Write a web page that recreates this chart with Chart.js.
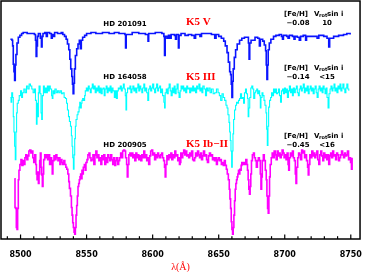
<!DOCTYPE html>
<html><head><meta charset="utf-8">
<script src="https://cdn.jsdelivr.net/npm/chart.js@4.4.0/dist/chart.umd.min.js"></script>
<style>html,body{margin:0;padding:0;background:#fff;}#wrap{width:365px;height:272px;position:relative;}</style>
</head><body><div id="wrap"><canvas id="c"></canvas></div>
<script>
// x tick labels (Angstrom)
const xTicks = [8500, 8550, 8600, 8650, 8700, 8750];
const minorTicks = [8490,8500,8510,8520,8530,8540,8550,8560,8570,8580,8590,8600,8610,8620,8630,8640,8650,8660,8670,8680,8690,8700,8710,8720,8730,8740,8750];

// star labels
const starNames = ["HD 201091", "HD 164058", "HD 200905"];
const spTypes = ["K5 V", "K5 III", "K5 Ib\u2212II"];
const fehValues = ["\u22120.08", "\u22120.14", "\u22120.45"];
const vsiniValues = ["10", "<15", "<16"];

// spectra: [wavelength (A), relative flux incl. vertical offset]
const blueSpec = [
[8492.3,209],[8493.5,208],[8494.0,202],[8494.5,183],[8495.0,175],[8495.5,166],[8496.0,182],[8496.5,193],[8497.3,205],[8498.3,211],
[8499.5,213],[8500.8,215],[8502.0,216],[8505.0,215],[8508.0,215],[8510.5,214],[8511.3,208],[8511.8,191],[8512.3,202],[8512.8,212],
[8513.5,215],[8514.3,215],[8515.0,210],[8515.8,201],[8516.3,212],[8517.0,215],[8518.3,216],[8519.5,212],[8520.3,216],[8522.0,215],
[8523.3,210],[8524.0,214],[8525.0,212],[8525.8,216],[8528.0,215],[8530.8,216],[8532.0,214],[8533.3,212],[8534.5,209],[8535.5,204],
[8536.5,198],[8537.3,188],[8538.0,178],[8538.8,170],[8539.3,162],[8539.8,152],[8540.3,163],[8540.8,178],[8541.5,192],[8542.5,199],
[8543.5,204],[8544.5,208],[8545.3,199],[8546.0,208],[8547.0,211],[8548.5,213],[8550.0,215],[8553.3,216],[8557.0,215],[8562.0,216],
[8567.0,215],[8571.0,216],[8574.5,215],[8579.0,214],[8579.5,200],[8580.0,214],[8584.5,216],[8589.5,215],[8594.5,214],[8596.5,207],
[8597.0,215],[8602.0,216],[8607.0,215],[8608.5,212],[8609.0,192],[8609.5,212],[8610.8,210],[8612.0,213],[8612.8,210],[8614.0,214],
[8616.5,213],[8617.3,209],[8618.0,214],[8619.5,200],[8620.0,213],[8621.5,215],
[8622.0,215],[8624.5,213],[8627.0,214],[8629.5,213],[8631.5,210],[8632.5,214],[8635.8,212],[8637.0,215],[8640.8,215],[8644.5,214],
[8647.0,210],[8648.0,214],[8650.0,212],[8652.0,210],[8653.8,207],[8655.0,202],[8656.3,195],[8657.3,185],[8658.3,175],[8659.0,172],
[8659.5,162],[8660.0,148],[8660.5,165],[8661.0,178],[8661.8,190],[8662.8,198],[8664.0,204],[8665.8,208],[8667.5,210],[8669.5,211],
[8671.5,211],[8672.5,205],[8673.0,188],[8673.5,205],[8674.5,208],[8676.0,208],[8677.5,211],[8679.5,210],[8680.8,202],[8681.5,209],
[8683.3,207],[8684.5,203],[8685.5,197],[8686.0,182],[8686.5,167],[8687.0,182],[8687.5,198],[8688.3,205],[8689.5,209],[8691.5,212],
[8693.3,213],[8695.8,214],[8697.5,212],[8698.3,209],[8699.0,213],[8701.5,212],[8702.5,210],[8703.5,213],[8705.8,212],[8707.0,209],
[8707.8,212],[8709.5,211],[8711.0,208],[8712.0,212],[8714.0,213],[8715.8,208],[8716.5,212],[8719.5,212],[8722.0,212],[8724.5,210],
[8725.8,213],[8729.5,212],[8732.0,210],[8733.3,201],[8734.0,210],[8737.0,212],[8740.8,213],[8744.5,214],[8747.0,215],[8749.5,214]
];

const cyanSpec = [
[8492.3,148],[8492.8,143],[8493.3,153],[8494.0,148],[8494.5,128],[8495.0,112],[8495.5,97],[8496.0,83],[8496.5,112],[8497.0,132],
[8497.5,142],[8498.3,145],[8499.0,150],[8500.0,155],[8500.8,148],[8501.5,153],[8502.5,157],[8503.5,153],[8504.5,160],[8505.5,157],
[8506.5,162],[8507.5,160],[8508.5,157],[8509.5,153],[8510.5,157],[8511.3,145],[8512.0,120],[8512.5,142],[8513.0,128],[8513.5,153],
[8514.0,160],[8514.8,152],[8515.5,132],[8516.0,125],[8516.5,150],[8517.3,160],[8518.0,153],[8518.8,158],[8519.5,153],[8520.3,160],
[8521.0,155],[8521.8,160],[8522.5,157],[8523.5,150],[8524.0,147],[8524.5,155],[8525.3,152],[8526.0,157],[8527.0,153],[8528.0,155],
[8529.0,153],[8530.0,155],[8531.0,152],[8532.0,153],[8533.0,148],[8534.0,147],[8534.8,142],[8535.5,135],[8536.3,128],[8537.0,123],
[8537.8,118],[8538.5,108],[8539.0,97],[8539.5,85],[8540.0,73],[8540.5,88],[8541.0,105],[8541.5,118],[8542.0,125],[8542.8,130],
[8543.5,133],[8544.3,138],[8544.8,143],[8545.3,137],[8546.0,142],[8546.5,145],[8547.0,147],[8547.8,145],[8548.5,150],[8549.0,155],
[8549.8,158],[8550.5,155],[8551.3,160],[8552.0,157],[8552.8,153],[8553.5,158],[8554.3,162],[8555.0,157],[8555.8,160],[8556.5,153],
[8557.3,158],[8558.0,155],[8558.8,160],[8559.5,153],[8560.3,158],[8561.0,152],[8561.8,157],[8562.5,158],[8563.3,150],[8564.0,157],
[8564.8,160],[8565.5,153],[8566.3,158],[8567.0,155],[8567.8,160],[8568.5,153],[8569.3,158],[8570.0,155],[8571.0,148],[8571.8,155],
[8572.5,147],[8573.3,155],[8574.0,158],[8574.8,157],[8575.5,160],[8576.3,155],[8577.0,158],[8577.8,162],[8578.5,157],[8579.3,150],
[8579.8,135],[8580.3,153],[8581.0,158],[8582.0,157],[8582.8,160],[8583.5,153],[8584.3,157],[8585.0,160],[8585.8,155],[8586.5,158],
[8587.3,153],[8588.0,158],[8588.8,162],[8589.5,155],[8590.3,160],[8591.0,157],[8591.8,153],[8592.5,158],[8593.3,162],[8594.0,155],
[8594.8,158],[8595.5,153],[8596.3,145],[8597.0,157],[8597.8,160],[8598.5,155],[8599.3,158],[8600.0,162],[8600.8,157],[8601.5,153],
[8602.3,158],[8603.0,162],[8603.8,155],[8604.5,158],[8605.3,160],[8606.0,153],[8606.8,157],[8607.5,150],[8608.5,143],[8609.0,137],
[8609.5,153],[8610.3,157],[8611.0,152],[8611.8,158],[8612.5,162],[8613.3,155],[8614.0,150],[8614.8,158],[8615.5,153],[8616.3,160],
[8617.0,152],[8617.8,157],[8618.5,162],[8619.3,153],[8620.0,148],[8620.8,155],[8621.5,160],
[8622.0,157],[8622.8,160],[8623.5,155],[8624.3,158],[8625.0,153],[8625.8,160],[8626.5,157],[8627.3,158],[8628.0,153],[8628.8,158],
[8629.5,155],[8630.3,160],[8631.0,155],[8631.8,158],[8632.5,153],[8633.3,160],[8634.0,157],[8635.0,162],[8635.8,155],[8636.5,158],
[8637.3,153],[8638.0,160],[8639.0,157],[8640.0,150],[8640.8,158],[8641.5,155],[8642.5,158],[8643.5,153],[8644.5,157],[8645.8,152],
[8647.0,153],[8648.3,157],[8649.5,153],[8650.5,150],[8651.5,145],[8652.5,152],[8653.5,148],[8654.5,145],[8655.5,140],[8656.3,137],
[8657.0,130],[8657.8,122],[8658.3,112],[8658.8,103],[8659.3,92],[8659.8,75],[8660.3,92],[8660.8,110],[8661.3,125],[8662.0,135],
[8662.8,140],[8663.5,143],[8664.3,142],[8665.0,145],[8665.8,147],[8666.5,152],[8667.3,147],[8668.0,148],[8668.8,142],[8669.5,153],
[8670.3,157],[8671.0,152],[8671.8,147],[8672.3,128],[8672.8,137],[8673.5,148],[8674.3,158],[8675.0,160],[8675.8,157],[8676.5,147],
[8677.3,153],[8678.0,155],[8678.8,157],[8679.5,152],[8680.3,155],[8681.0,150],[8681.5,137],[8682.0,148],[8682.8,153],[8683.5,150],
[8684.3,145],[8685.0,140],[8685.8,132],[8686.3,115],[8686.8,98],[8687.3,118],[8687.8,138],[8688.5,145],[8689.3,148],[8690.0,153],
[8690.8,150],[8691.5,157],[8692.3,153],[8693.0,157],[8693.8,152],[8694.5,153],[8695.3,157],[8696.0,150],[8696.8,143],[8697.5,155],
[8698.3,157],[8699.0,152],[8699.8,158],[8700.5,153],[8701.3,157],[8702.0,148],[8702.8,155],[8703.5,160],[8704.3,153],[8705.0,157],
[8705.8,150],[8706.5,158],[8707.3,153],[8708.0,157],[8708.8,160],[8709.5,153],[8710.3,150],[8711.0,157],[8711.8,160],[8712.5,155],
[8713.3,158],[8714.0,162],[8714.8,153],[8715.5,158],[8716.3,155],[8717.0,160],[8717.8,152],[8718.5,157],[8719.3,160],[8720.0,155],
[8720.8,158],[8721.5,152],[8722.3,157],[8723.0,160],[8723.8,153],[8724.5,148],[8725.3,157],[8726.0,160],[8726.8,155],[8727.5,158],
[8728.3,153],[8729.0,160],[8729.8,157],[8730.5,152],[8731.3,158],[8732.0,148],[8732.8,137],[8733.5,152],[8734.3,157],[8735.0,160],
[8735.8,155],[8736.5,158],[8737.3,162],[8738.0,155],[8738.8,158],[8739.5,153],[8740.3,160],[8741.0,157],[8741.8,162],[8742.5,155],
[8743.3,158],[8744.0,162],[8744.8,157],[8745.5,153],[8746.3,158],[8747.0,162],[8747.8,157],[8748.5,155]
];

const magentaSpec = [
[8495.3,63],[8495.8,33],[8496.3,32],[8496.8,12],[8497.3,10],[8497.8,32],[8498.3,62],[8498.8,72],[8499.5,78],[8500.3,83],
[8501.0,77],[8501.8,82],[8502.5,78],[8503.3,85],[8504.0,88],[8504.8,83],[8505.5,87],[8506.3,92],[8507.0,93],[8507.8,90],
[8508.5,92],[8509.3,85],[8510.0,80],[8510.8,88],[8511.5,78],[8512.0,68],[8512.5,62],[8513.0,70],[8513.5,58],[8514.0,68],
[8514.5,82],[8515.0,90],[8515.5,75],[8516.0,67],[8516.5,55],[8517.0,68],[8517.5,83],[8518.3,88],[8519.0,85],[8519.8,88],
[8520.5,83],[8521.3,88],[8522.0,78],[8522.8,85],[8523.5,78],[8524.0,68],[8524.5,82],[8525.3,87],[8526.0,83],[8526.8,88],
[8527.5,85],[8528.3,82],[8529.0,85],[8529.8,78],[8530.5,83],[8531.3,80],[8532.0,78],[8532.8,82],[8533.5,78],[8534.3,75],
[8535.0,73],[8535.8,68],[8536.5,60],[8537.0,53],[8537.8,45],[8538.5,33],[8539.0,25],[8539.5,17],[8540.0,12],[8540.5,7],
[8541.0,5],[8541.5,12],[8542.0,25],[8542.5,35],[8543.0,45],[8543.5,55],[8544.0,58],[8544.5,62],[8545.0,65],[8545.5,68],
[8546.0,63],[8546.5,72],[8547.0,68],[8547.5,75],[8548.3,78],[8549.0,72],[8549.5,80],[8550.3,83],[8551.0,88],[8551.8,90],
[8552.5,85],[8553.3,82],[8554.0,83],[8554.8,88],[8555.5,78],[8556.3,88],[8557.0,92],[8557.8,85],[8558.5,88],[8559.3,82],
[8560.0,85],[8560.8,78],[8561.5,87],[8562.3,83],[8563.0,88],[8563.8,78],[8564.5,85],[8565.3,80],[8566.0,88],[8566.8,85],
[8567.5,82],[8568.3,88],[8569.0,83],[8569.8,78],[8570.5,85],[8571.3,77],[8572.0,82],[8572.8,85],[8573.5,78],[8574.3,82],
[8575.0,85],[8575.8,90],[8576.5,85],[8577.3,92],[8578.0,93],[8578.8,92],[8579.5,85],[8580.3,78],[8580.8,65],[8581.3,78],
[8582.0,88],[8582.8,90],[8583.5,87],[8584.3,90],[8585.0,85],[8585.8,88],[8586.5,82],[8587.3,90],[8588.0,85],[8588.8,88],
[8589.5,83],[8590.3,87],[8591.0,82],[8591.8,88],[8592.5,85],[8593.3,92],[8594.0,85],[8594.8,88],[8595.5,82],[8596.3,85],
[8597.0,78],[8597.8,87],[8598.5,92],[8599.3,93],[8600.0,88],[8600.8,90],[8601.5,83],[8602.3,88],[8603.0,85],[8603.8,90],
[8604.5,87],[8605.3,85],[8606.0,88],[8606.8,90],[8607.5,85],[8608.3,82],[8609.0,75],[8609.5,65],[8610.0,78],[8610.8,87],
[8611.5,83],[8612.3,88],[8613.0,85],[8613.8,90],[8614.5,83],[8615.3,88],[8616.0,85],[8616.8,92],[8617.5,87],[8618.3,88],
[8619.0,82],[8619.8,85],[8620.3,78],[8620.8,80],[8621.3,90],
[8622.0,85],[8622.8,90],[8623.5,93],[8624.3,88],[8625.0,92],[8625.8,87],[8626.5,88],[8627.3,85],[8628.0,90],[8628.8,87],
[8629.5,92],[8630.3,83],[8631.0,82],[8631.8,85],[8632.5,90],[8633.3,87],[8634.0,92],[8634.8,88],[8635.5,85],[8636.3,90],
[8637.0,83],[8637.8,87],[8638.5,92],[8639.3,87],[8640.0,88],[8640.8,83],[8641.5,80],[8642.3,87],[8643.0,90],[8643.8,87],
[8644.5,88],[8645.3,83],[8646.0,85],[8646.8,82],[8647.5,85],[8648.3,78],[8649.0,83],[8649.8,85],[8650.5,82],[8651.3,83],
[8652.0,78],[8652.8,80],[8653.5,77],[8654.3,82],[8655.0,77],[8655.8,73],[8656.5,68],[8657.3,62],[8658.0,52],[8658.5,42],
[8659.0,32],[8659.5,18],[8660.0,10],[8660.5,5],[8661.0,12],[8661.5,25],[8662.0,40],[8662.5,52],[8663.0,58],[8663.5,62],
[8664.0,65],[8664.5,68],[8665.0,72],[8665.5,68],[8666.0,73],[8666.5,72],[8667.0,77],[8667.5,80],[8668.3,78],[8669.0,80],
[8669.8,78],[8670.5,83],[8671.3,78],[8671.8,72],[8672.3,62],[8672.8,52],[8673.3,47],[8673.8,55],[8674.3,68],[8674.8,82],
[8675.5,88],[8676.3,90],[8677.0,85],[8677.8,82],[8678.5,75],[8679.3,82],[8680.0,85],[8680.8,82],[8681.5,68],[8682.0,52],
[8682.5,65],[8683.0,82],[8683.8,88],[8684.5,82],[8685.3,72],[8686.0,62],[8686.5,45],[8687.0,32],[8687.5,27],[8688.0,45],
[8688.5,65],[8689.0,78],[8689.8,85],[8690.5,90],[8691.3,85],[8692.0,92],[8692.8,88],[8693.5,83],[8694.3,92],[8695.0,87],
[8695.8,90],[8696.5,85],[8697.3,88],[8698.0,93],[8698.8,90],[8699.5,85],[8700.3,88],[8701.0,83],[8701.8,90],[8702.5,78],
[8703.0,72],[8703.5,85],[8704.3,90],[8705.0,87],[8705.8,92],[8706.5,85],[8707.3,82],[8708.0,68],[8708.5,58],[8709.0,75],
[8709.8,85],[8710.5,90],[8711.3,88],[8712.0,83],[8712.8,93],[8713.5,90],[8714.3,92],[8715.0,85],[8715.8,88],[8716.5,82],
[8717.3,75],[8717.8,67],[8718.3,78],[8719.0,88],[8719.8,85],[8720.5,92],[8721.3,87],[8722.0,90],[8722.8,85],[8723.5,88],
[8724.3,92],[8725.0,83],[8725.8,78],[8726.5,88],[8727.3,92],[8728.0,87],[8728.8,82],[8729.5,90],[8730.3,85],[8731.0,88],
[8731.8,83],[8732.5,88],[8733.3,78],[8734.0,87],[8734.8,90],[8735.5,85],[8736.3,92],[8737.0,87],[8737.8,88],[8738.5,83],
[8739.3,90],[8740.0,88],[8740.8,82],[8741.5,85],[8742.3,88],[8743.0,92],[8743.8,88],[8744.5,85],[8745.3,90],[8746.0,87],
[8746.8,88],[8747.5,92],[8748.3,83],[8749.0,85],[8749.8,80],[8750.5,73],[8751.0,85]
];

const toXY = s => s.map(p => ({x: p[0], y: p[1]}));

const annotPlugin = {
  id: 'annot',
  afterDraw(chart) {
    const {ctx, chartArea: a, scales: {x}} = chart;
    ctx.save();
    // frame
    ctx.strokeStyle = '#000';
    ctx.lineWidth = 1.5;
    ctx.strokeRect(a.left, a.top, a.right - a.left, a.bottom - a.top);
    // inward ticks
    ctx.lineWidth = 1.2;
    minorTicks.forEach(w => {
      const px = x.getPixelForValue(w);
      const len = xTicks.includes(w) ? 4.5 : 2.8;
      ctx.beginPath(); ctx.moveTo(px, a.bottom); ctx.lineTo(px, a.bottom - len); ctx.stroke();
    });
    // texts
    const hdY = [24.5, 77, 145];
    const spY = [22.5, 77.5, 144];
    const hdrY = [14, 67.7, 135.7];
    const valY = [23.3, 76.7, 145];
    ctx.textBaseline = 'middle';
    for (let i = 0; i < 3; i++) {
      ctx.fillStyle = '#000';
      ctx.font = 'bold 7px "DejaVu Sans"';
      ctx.textAlign = 'center';
      ctx.fillText(starNames[i], 125, hdY[i]);
      ctx.fillStyle = '#ff0000';
      ctx.font = 'bold 11px "Liberation Serif"';
      ctx.textAlign = 'left';
      ctx.fillText(spTypes[i], 186, spY[i]);
      ctx.fillStyle = '#000';
      ctx.font = 'bold 7px "DejaVu Sans"';
      ctx.textAlign = 'right';
      ctx.fillText('[Fe/H]', 308, hdrY[i]);
      ctx.textAlign = 'left';
      ctx.fillText('V', 314, hdrY[i]);
      ctx.font = 'bold 5px "DejaVu Sans"';
      ctx.fillText('rot', 319, hdrY[i] + 2);
      ctx.font = 'bold 7px "DejaVu Sans"';
      ctx.fillText('sin i', 327, hdrY[i]);
      ctx.textAlign = 'center';
      ctx.fillText(fehValues[i], 298, valY[i]);
      ctx.fillText(vsiniValues[i], 327, valY[i]);
    }
    ctx.restore();
  }
};

new Chart(document.getElementById('c'), {
  type: 'line',
  data: {
    datasets: [
      {data: toXY(blueSpec), borderColor: '#0a14ff', borderWidth: 1.6, stepped: true, pointRadius: 0, fill: false},
      {data: toXY(magentaSpec), borderColor: '#ff00ff', borderWidth: 1.6, stepped: true, pointRadius: 0, fill: false},
      {data: toXY(cyanSpec), borderColor: '#00ffff', borderWidth: 1.1, stepped: true, pointRadius: 0, fill: false}
    ]
  },
  options: {
    responsive: true,
    maintainAspectRatio: false,
    animation: false,
    devicePixelRatio: 1,
    layout: {padding: {left: 1, right: 3, top: 1, bottom: 0}},
    plugins: {legend: {display: false}, tooltip: {enabled: false}},
    scales: {
      x: {
        type: 'linear',
        min: 8485.2, max: 8757.0,
        afterBuildTicks: s => { s.ticks = xTicks.map(v => ({value: v})); },
        ticks: {
          font: {family: 'DejaVu Sans', size: 8, weight: 'bold', lineHeight: 1.125},
          color: '#000', padding: 3, maxRotation: 0, autoSkip: false,
          callback: v => String(v)
        },
        grid: {display: false},
        border: {display: false},
        title: {display: true, text: 'λ(Å)', color: '#ff0000',
          font: {family: 'Liberation Serif', size: 10, lineHeight: 1},
          padding: {top: 0, bottom: 0}}
      },
      y: {type: 'linear', display: false, min: 0, max: 249}
    }
  },
  plugins: [annotPlugin]
});
</script>
</body></html>
